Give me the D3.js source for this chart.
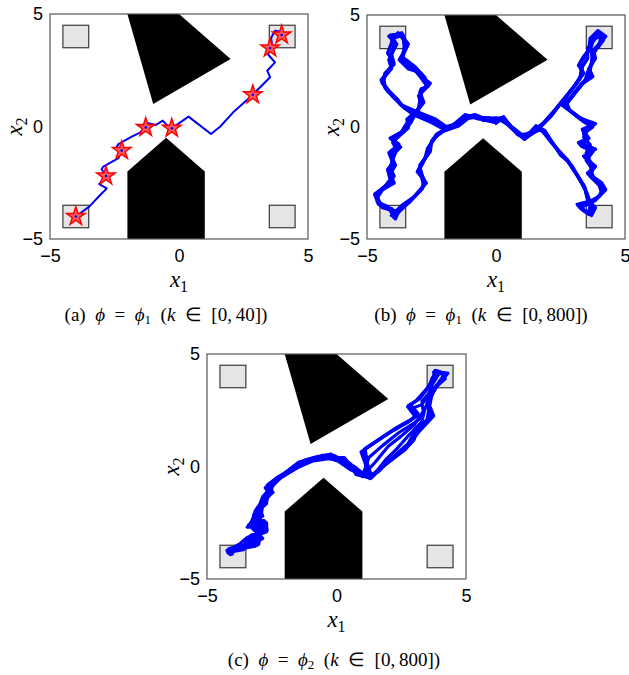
<!DOCTYPE html>
<html>
<head>
<meta charset="utf-8">
<script src="https://cdn.jsdelivr.net/npm/d3@7"></script>
<style>
  body { margin: 0; background: #fff; }
  .tick text { font-family: "Liberation Sans", Arial, sans-serif; font-size: 18px; fill: #000; }
  .alabel { font-family: "Liberation Serif", serif; font-size: 23px; }
  .caption { font-family: "Liberation Serif", serif; font-size: 19px; }
</style>
</head>
<body>
<script>
const xTicks = [-5, 0, 5];
const yTicks = [-5, 0, 5];

// regions to visit (lower-left corner, side 1)
const regionX = [-4.5, 3.5, -4.5, 3.5];
const regionY = [3.5, 3.5, -4.5, -4.5];
const regionSide = 1;

// obstacles
const obstacleTop = [[-2, 5], [0, 5], [2, 3], [-1, 1]];
const obstacleBottom = [[-2, -5], [-2, -2], [-0.5, -0.5], [1, -2], [1, -5]];

// (a) single run, k in [0,40]
const trajA = [[-4, -4], [-3.48, -3.56], [-3.09, -3.09], [-2.8, -2.75], [-3.09, -2.56], [-2.83, -2.2],
  [-3.0, -1.9], [-2.93, -1.78], [-2.35, -1.41], [-2.22, -1.07], [-2.41, -0.9], [-2.35, -0.78],
  [-1.83, -0.45], [-1.51, -0.27], [-1.29, -0.04], [-1.19, 0.14], [-0.89, 0.07], [-0.63, 0.26],
  [-0.48, 0.07], [-0.28, -0.08], [0.37, 0.44], [1.24, -0.33], [1.59, -0.01], [2.1, 0.63],
  [2.86, 1.41], [3.53, 2.19], [3.42, 2.48], [3.72, 2.85], [3.46, 3.19], [3.53, 3.49],
  [3.6, 3.7], [3.57, 3.93], [3.72, 4.26], [3.85, 4.23], [3.98, 4.07]];
const starsA = [[-4, -4], [-2.83, -2.2], [-2.22, -1.07], [-1.29, -0.04], [-0.28, -0.08],
  [2.86, 1.41], [3.53, 3.49], [3.98, 4.07]];

// (b) phi1, k in [0,800]
const trajB1 = [[-0.09, 0.28], [-0.35, 0.36], [-0.61, 0.43], [-1.12, 0.51], [-1.51, 0.13], [-1.9, -0.09],
  [-2.42, 0.28], [-3.06, 0.58], [-3.64, 0.95], [-3.84, 1.25], [-4.1, 1.55], [-4.42, 2.0], [-4.22, 2.44],
  [-3.97, 2.89], [-4.1, 3.18], [-3.9, 3.78], [-4.1, 4.1], [-3.7, 4.15], [-3.4, 3.7], [-3.71, 2.96],
  [-3.32, 2.66], [-3.06, 2.44], [-2.61, 1.85], [-2.93, 1.62], [-2.87, 1.18], [-3.06, 0.73], [-3.39, 0.28],
  [-3.45, -0.09], [-4.03, -0.54], [-3.77, -0.76], [-4.1, -1.2], [-3.97, -1.58], [-4.16, -1.95],
  [-4.03, -2.4], [-4.35, -2.69], [-4.68, -3.06], [-4.48, -3.51], [-4.03, -3.66], [-3.97, -4.03],
  [-3.71, -3.73], [-3.32, -3.29], [-2.93, -2.84], [-2.74, -2.47], [-3.0, -1.95], [-2.8, -1.5],
  [-2.61, -1.06], [-2.48, -0.61], [-2.29, -0.31], [-1.9, -0.09], [-1.5, 0.2], [-1.1, 0.45], [-0.6, 0.4],
  [-0.1, 0.3], [0.27, 0.43], [0.47, 0.13], [1.11, -0.46], [1.63, -0.09], [2.15, 0.51], [2.53, 1.1],
  [2.92, 1.62], [3.18, 2.07], [3.37, 2.44], [3.24, 2.81], [3.44, 3.18], [3.63, 3.48], [3.7, 4.0],
  [3.96, 4.23], [4.21, 4.0], [3.96, 3.56], [3.76, 3.41], [3.83, 3.11], [3.63, 2.66], [3.7, 2.22],
  [3.31, 1.92], [2.92, 1.32], [2.6, 0.95], [3.05, 0.58], [3.37, 0.28], [3.83, 0.13], [3.37, -0.16],
  [3.57, -0.54], [3.24, -0.76], [3.83, -0.98], [3.44, -1.35], [3.83, -1.8], [3.57, -2.1], [4.08, -2.55],
  [4.21, -2.84], [3.83, -3.29], [3.18, -3.51], [3.44, -3.73], [3.7, -3.88], [3.83, -3.58], [3.57, -3.29],
  [3.44, -2.69], [3.12, -2.1], [2.79, -1.5], [2.53, -1.2], [2.21, -0.76], [1.89, -0.16], [1.63, -0.01],
  [1.11, -0.54], [0.73, -0.16], [0.27, 0.43], [-0.05, 0.13]];
const trajB2 = [[0.0, 0.2], [-0.4, 0.3], [-0.7, 0.5], [-1.05, 0.42], [-1.45, 0.05], [-1.95, -0.15],
  [-2.5, 0.2], [-3.1, 0.5], [-3.55, 0.85], [-3.9, 1.3], [-4.2, 1.6], [-4.45, 2.1], [-4.15, 2.5],
  [-4.0, 2.95], [-4.2, 3.3], [-4.0, 3.9], [-3.8, 4.2], [-3.5, 3.8], [-3.65, 3.05], [-3.25, 2.75],
  [-3.0, 2.35], [-2.55, 1.95], [-2.95, 1.55], [-2.8, 1.1], [-3.1, 0.65], [-3.3, 0.2], [-3.55, -0.2],
  [-3.95, -0.6], [-3.7, -0.9], [-4.05, -1.3], [-3.9, -1.7], [-4.1, -2.1], [-3.95, -2.5], [-4.4, -2.8],
  [-4.6, -3.15], [-4.4, -3.6], [-3.9, -3.75], [-4.05, -3.95], [-3.6, -3.6], [-3.25, -3.2], [-2.85, -2.75],
  [-2.8, -2.35], [-2.95, -1.85], [-2.75, -1.4], [-2.65, -0.95], [-2.4, -0.55], [-2.2, -0.25], [-1.8, -0.05],
  [-1.4, 0.25], [-1.0, 0.5], [-0.5, 0.35], [0.0, 0.4], [0.35, 0.35], [0.55, 0.05], [1.05, -0.4],
  [1.7, 0.0], [2.2, 0.6], [2.6, 1.2], [2.95, 1.7], [3.25, 2.15], [3.3, 2.5], [3.3, 2.9], [3.5, 3.25],
  [3.7, 3.6], [3.8, 4.1], [4.05, 4.2], [4.15, 3.85], [3.9, 3.5], [3.75, 3.2], [3.68, 2.75], [3.62, 2.3],
  [3.25, 1.85], [2.85, 1.25], [2.7, 0.9], [3.1, 0.5], [3.45, 0.2], [3.75, 0.0], [3.4, -0.3], [3.5, -0.65],
  [3.3, -0.85], [3.75, -1.1], [3.5, -1.5], [3.75, -1.9], [3.65, -2.2], [4.0, -2.6], [4.1, -2.95],
  [3.75, -3.35], [3.25, -3.6], [3.5, -3.8], [3.75, -3.75], [3.6, -3.2], [3.4, -2.6], [3.05, -2.0],
  [2.75, -1.45], [2.45, -1.1], [2.15, -0.7], [1.85, -0.25], [1.55, 0.05], [1.15, -0.45], [0.65, -0.1],
  [0.2, 0.35], [0.0, 0.2]];
const trajB3 = [[0.05, 0.25], [-0.3, 0.42], [-0.65, 0.35], [-1.2, 0.55], [-1.55, 0.2], [-1.85, -0.05],
  [-2.35, 0.35], [-3.0, 0.65], [-3.7, 1.0], [-3.8, 1.2], [-4.05, 1.45], [-4.4, 1.95], [-4.3, 2.4],
  [-3.95, 2.8], [-4.05, 3.25], [-3.85, 3.7], [-4.15, 4.05], [-3.65, 4.2], [-3.45, 3.6], [-3.75, 3.0],
  [-3.4, 2.6], [-3.1, 2.5], [-2.65, 1.8], [-2.9, 1.7], [-2.95, 1.2], [-3.0, 0.8], [-3.45, 0.35],
  [-3.4, -0.05], [-4.1, -0.5], [-3.8, -0.8], [-4.15, -1.15], [-4.0, -1.6], [-4.2, -1.9], [-4.1, -2.35],
  [-4.3, -2.65], [-4.7, -3.0], [-4.55, -3.45], [-4.1, -3.7], [-3.9, -4.1], [-3.75, -3.7], [-3.35, -3.35],
  [-3.0, -2.9], [-2.7, -2.5], [-3.05, -2.0], [-2.85, -1.55], [-2.55, -1.1], [-2.5, -0.65], [-2.3, -0.35],
  [-1.95, -0.1], [-1.55, 0.15], [-1.15, 0.4], [-0.65, 0.45], [-0.15, 0.25], [0.3, 0.45], [0.45, 0.15],
  [1.15, -0.5], [1.6, -0.15], [2.1, 0.45], [2.5, 1.05], [2.85, 1.55], [3.15, 2.0], [3.4, 2.4], [3.2, 2.75],
  [3.4, 3.15], [3.6, 3.45], [3.65, 3.95], [3.95, 4.3], [4.25, 4.05], [3.95, 3.65], [3.8, 3.35], [3.85, 3.05],
  [3.6, 2.6], [3.75, 2.25], [3.35, 1.95], [2.95, 1.35], [2.55, 1.0], [3.0, 0.6], [3.35, 0.35], [3.85, 0.15],
  [3.35, -0.1], [3.6, -0.5], [3.2, -0.7], [3.85, -1.0], [3.4, -1.3], [3.85, -1.75], [3.55, -2.05],
  [4.1, -2.5], [4.25, -2.8], [3.85, -3.25], [3.15, -3.45], [3.4, -3.7], [3.7, -3.95], [3.85, -3.6],
  [3.55, -3.25], [3.45, -2.75], [3.15, -2.15], [2.8, -1.55], [2.5, -1.25], [2.25, -0.8], [1.9, -0.2],
  [1.65, -0.05], [1.1, -0.55], [0.75, -0.2], [0.3, 0.4], [0.05, 0.25]];
const trajB4 = [[-0.2, 0.35], [-0.5, 0.3], [-0.8, 0.55], [-1.2, 0.45], [-1.6, 0.1], [-2.0, 0.0],
  [-2.6, 0.3], [-3.2, 0.55], [-3.6, 0.9], [-4.0, 1.35], [-4.3, 1.75], [-4.35, 2.2], [-4.05, 2.6],
  [-4.15, 3.0], [-3.95, 3.5], [-4.05, 3.95], [-3.6, 4.1], [-3.55, 3.5], [-3.6, 3.1], [-3.15, 2.7],
  [-2.75, 2.2], [-2.7, 1.75], [-3.0, 1.4], [-2.9, 1.0], [-3.2, 0.5], [-3.5, 0.1], [-3.7, -0.3],
  [-4.0, -0.7], [-3.85, -1.0], [-4.0, -1.45], [-4.1, -1.8], [-3.95, -2.2], [-4.2, -2.55], [-4.55, -2.9],
  [-4.6, -3.35], [-4.2, -3.55], [-4.0, -3.9], [-3.65, -3.5], [-3.15, -3.1], [-2.8, -2.6], [-2.9, -2.15],
  [-2.95, -1.7], [-2.65, -1.25], [-2.55, -0.8], [-2.35, -0.45], [-2.05, -0.2], [-1.65, 0.1], [-1.25, 0.35],
  [-0.8, 0.45], [-0.35, 0.4], [0.1, 0.35], [0.4, 0.2], [0.85, -0.35], [1.3, -0.3], [1.85, 0.2],
  [2.35, 0.85], [2.75, 1.4], [3.05, 1.85], [3.3, 2.3], [3.35, 2.7], [3.55, 3.05], [3.55, 3.5], [3.85, 3.95],
  [4.1, 4.1], [4.0, 3.7], [3.7, 3.35], [3.75, 2.9], [3.55, 2.45], [3.45, 2.05], [3.05, 1.5], [2.75, 1.05],
  [2.85, 0.75], [3.2, 0.45], [3.6, 0.2], [3.55, -0.1], [3.4, -0.45], [3.65, -0.8], [3.5, -1.15],
  [3.65, -1.55], [3.7, -2.0], [3.8, -2.35], [4.15, -2.7], [4.0, -3.1], [3.5, -3.4], [3.3, -3.65],
  [3.6, -3.9], [3.65, -3.45], [3.5, -2.9], [3.25, -2.35], [2.95, -1.75], [2.65, -1.35], [2.35, -0.95],
  [2.05, -0.5], [1.75, -0.1], [1.35, -0.3], [0.95, -0.4], [0.5, 0.1], [0.1, 0.35], [-0.2, 0.35]];

// (c) phi2, k in [0,800]
const trajC1 = [[-4.1, -3.88], [-4.23, -3.73], [-3.71, -3.58], [-3.32, -3.29], [-3.07, -3.51], [-3.07, -3.06],
  [-2.68, -2.84], [-2.74, -2.47], [-3.32, -2.54], [-3.0, -1.88], [-2.74, -1.51], [-2.55, -1.06],
  [-2.62, -0.84], [-2.23, -0.47], [-1.65, -0.03], [-1.13, 0.27], [-0.62, 0.42], [-0.17, 0.49],
  [-0.04, 0.27], [0.01, 0.42], [0.53, 0.12], [0.78, -0.32], [1.3, -0.47], [1.17, -0.03], [1.04, 0.72],
  [1.69, 1.23], [2.27, 1.68], [2.85, 2.04], [3.1, 2.27], [2.78, 2.71], [3.1, 2.94], [3.49, 3.46],
  [3.75, 3.9], [3.81, 4.27], [4.26, 4.12], [4.0, 3.82], [3.75, 3.4], [3.55, 2.79], [3.68, 2.2],
  [3.1, 1.6], [2.97, 1.16], [2.59, 0.72], [1.69, -0.1], [1.3, -0.54], [0.6, -0.1], [0.1, 0.3],
  [-0.5, 0.45], [-1.2, 0.2], [-1.7, -0.1], [-2.3, -0.5], [-2.7, -0.9], [-2.5, -1.1], [-2.8, -1.5],
  [-3.1, -1.9], [-3.0, -2.3], [-3.4, -2.6], [-2.7, -2.6], [-3.0, -3.0], [-3.4, -3.3], [-3.1, -3.5],
  [-3.8, -3.6], [-4.2, -3.9]];
const trajC2 = [[-4.0, -3.95], [-4.15, -3.65], [-3.6, -3.5], [-3.25, -3.2], [-3.0, -3.45], [-2.95, -3.0],
  [-2.75, -2.75], [-2.8, -2.4], [-3.25, -2.45], [-2.95, -1.95], [-2.7, -1.55], [-2.6, -1.1], [-2.5, -0.8],
  [-2.1, -0.4], [-1.6, 0.05], [-1.05, 0.3], [-0.55, 0.35], [-0.1, 0.5], [0.1, 0.35], [0.6, 0.05],
  [0.85, -0.3], [1.35, -0.4], [1.2, 0.1], [1.1, 0.8], [1.75, 1.3], [2.35, 1.75], [2.9, 2.1], [3.15, 2.35],
  [2.85, 2.75], [3.2, 3.0], [3.55, 3.5], [3.7, 3.95], [3.9, 4.25], [4.2, 4.05], [3.95, 3.7], [3.7, 3.3],
  [3.6, 2.7], [3.75, 2.25], [3.15, 1.5], [2.9, 1.1], [2.5, 0.65], [1.75, -0.05], [1.35, -0.5], [0.65, -0.05],
  [0.2, 0.4], [-0.45, 0.4], [-1.1, 0.25], [-1.6, -0.05], [-2.2, -0.45], [-2.75, -0.95], [-2.6, -1.2],
  [-2.9, -1.6], [-3.15, -2.0], [-2.95, -2.35], [-3.45, -2.7], [-2.8, -2.7], [-3.1, -3.1], [-3.5, -3.35],
  [-3.2, -3.55], [-3.9, -3.7], [-4.25, -3.85]];
const trajC3 = [[-4.2, -3.8], [-3.8, -3.65], [-3.4, -3.35], [-3.15, -3.55], [-3.15, -3.1], [-2.7, -2.9],
  [-2.7, -2.5], [-3.35, -2.6], [-3.05, -1.9], [-2.8, -1.45], [-2.5, -1.0], [-2.65, -0.8], [-2.3, -0.5],
  [-1.7, -0.1], [-1.2, 0.3], [-0.7, 0.45], [-0.2, 0.55], [-0.05, 0.3], [0.5, 0.15], [0.75, -0.35],
  [1.25, -0.5], [1.15, 0.0], [0.95, 0.65], [1.65, 1.2], [2.2, 1.6], [2.8, 2.0], [3.05, 2.2], [2.75, 2.65],
  [3.05, 2.9], [3.45, 3.4], [3.8, 3.85], [3.75, 4.2], [4.3, 4.15], [4.05, 3.8], [3.8, 3.45], [3.5, 2.85],
  [3.65, 2.15], [3.05, 1.65], [3.0, 1.2], [2.65, 0.75], [1.6, -0.15], [1.25, -0.5], [0.55, -0.15],
  [0.05, 0.25], [-0.55, 0.5], [-1.25, 0.15], [-1.75, -0.15], [-2.35, -0.55], [-2.65, -0.85], [-2.45, -1.15],
  [-2.75, -1.45], [-3.05, -1.85], [-3.05, -2.25], [-3.35, -2.55], [-2.75, -2.55], [-2.95, -2.95],
  [-3.35, -3.25], [-3.05, -3.45], [-3.75, -3.55], [-4.15, -3.95]];
const trajC4 = [[-4.0, -3.75], [-3.55, -3.45], [-3.3, -3.05], [-2.85, -2.85], [-3.05, -2.5], [-2.9, -2.1],
  [-2.85, -1.7], [-2.65, -1.25], [-2.4, -0.75], [-2.0, -0.3], [-1.4, 0.1], [-0.9, 0.35], [-0.4, 0.45],
  [0.2, 0.3], [0.7, -0.2], [1.1, -0.3], [1.5, 0.2], [2.0, 0.9], [2.5, 1.35], [3.0, 1.85], [3.35, 2.45],
  [3.3, 2.9], [3.6, 3.3], [3.95, 3.7], [4.1, 4.0], [3.9, 3.6], [3.6, 3.1], [3.4, 2.5], [3.3, 2.0],
  [2.8, 1.4], [2.3, 0.75], [1.9, 0.3], [1.45, -0.35], [0.9, -0.25], [0.4, 0.2], [-0.3, 0.35], [-0.9, 0.25],
  [-1.5, -0.05], [-2.0, -0.4], [-2.45, -0.7], [-2.6, -1.3], [-2.95, -1.7], [-3.2, -2.15], [-3.25, -2.75],
  [-2.85, -3.2], [-3.3, -3.45], [-3.6, -3.7], [-4.1, -3.8]];
const trajC5 = [[-4.15, -3.7], [-3.75, -3.45], [-3.45, -3.15], [-3.0, -2.95], [-3.2, -2.7], [-2.95, -2.3],
  [-3.05, -2.0], [-2.7, -1.65], [-2.7, -1.2], [-2.35, -0.65], [-1.9, -0.2], [-1.45, 0.2], [-0.8, 0.4],
  [-0.3, 0.4], [0.3, 0.4], [0.65, -0.1], [1.0, -0.45], [1.25, 0.4], [1.8, 0.95], [2.4, 1.5], [2.95, 1.9],
  [3.2, 2.1], [2.95, 2.6], [3.3, 2.75], [3.55, 3.2], [3.7, 3.65], [4.0, 4.2], [4.2, 3.9], [3.85, 3.55],
  [3.6, 2.95], [3.55, 2.45], [3.5, 2.1], [3.0, 1.5], [2.75, 1.0], [2.2, 0.45], [1.6, -0.25], [1.15, -0.45],
  [0.75, -0.05], [0.25, 0.3], [-0.35, 0.5], [-1.0, 0.3], [-1.6, -0.1], [-2.15, -0.5], [-2.55, -0.95],
  [-2.85, -1.35], [-3.0, -1.8], [-2.85, -2.2], [-3.25, -2.45], [-3.0, -2.8], [-3.2, -3.2], [-3.55, -3.5],
  [-4.05, -3.6]];

const svg = d3.select("body").append("svg").attr("width", 629).attr("height", 675);

const minus = d => (d < 0 ? "\u2212" + Math.abs(d) : String(d));

function drawPanel(box, trajs, stars, lineWidth, cap) {
  const x = d3.scaleLinear().domain([-5, 5]).range([box.l, box.r]);
  const y = d3.scaleLinear().domain([-5, 5]).range([box.b, box.t]);
  const g = svg.append("g");

  g.append("rect").attr("x", box.l).attr("y", box.t)
    .attr("width", box.r - box.l).attr("height", box.b - box.t).attr("fill", "#fff");

  const poly = d3.line().x(d => x(d[0])).y(d => y(d[1]));
  [obstacleTop, obstacleBottom].forEach(o => {
    g.append("path").attr("d", poly(o) + "Z").attr("fill", "#000");
  });

  regionX.forEach((rx, i) => {
    g.append("rect")
      .attr("x", x(rx)).attr("y", y(regionY[i] + regionSide))
      .attr("width", x(rx + regionSide) - x(rx))
      .attr("height", y(regionY[i]) - y(regionY[i] + regionSide))
      .attr("fill", "#e5e5e5").attr("stroke", "#3a3a3a").attr("stroke-width", 1.2);
  });

  trajs.forEach(t => {
    g.append("path").attr("d", poly(t)).attr("fill", "none")
      .attr("stroke", "#0000ff").attr("stroke-width", lineWidth)
      .attr("stroke-linejoin", "round");
  });

  if (stars) {
    const star = d3.symbol().type(d3.symbolStar).size(105);
    g.selectAll(".star").data(stars).enter().append("path")
      .attr("transform", d => "translate(" + x(d[0]) + "," + y(d[1]) + ")")
      .attr("d", star).attr("fill", "#ff5a5a").attr("stroke", "#ff0000").attr("stroke-width", 1.5);
    g.selectAll(".dot").data(stars).enter().append("circle")
      .attr("cx", d => x(d[0])).attr("cy", d => y(d[1])).attr("r", 1.3).attr("fill", "#0000ff");
  }

  g.append("rect").attr("x", box.l).attr("y", box.t)
    .attr("width", box.r - box.l).attr("height", box.b - box.t)
    .attr("fill", "none").attr("stroke", "#555").attr("stroke-width", 1.2);

  const ax = g.append("g").attr("transform", "translate(0," + box.b + ")")
    .call(d3.axisBottom(x).tickValues(xTicks).tickSize(0).tickPadding(10).tickFormat(minus));
  ax.select(".domain").remove();
  const ay = g.append("g").attr("transform", "translate(" + box.l + ",0)")
    .call(d3.axisLeft(y).tickValues(yTicks).tickSize(0).tickPadding(7).tickFormat(minus));
  ay.select(".domain").remove();

  // axis labels
  const xl = g.append("text").attr("class", "alabel")
    .attr("x", (box.l + box.r) / 2).attr("y", box.b + 48).attr("text-anchor", "middle");
  xl.append("tspan").attr("font-style", "italic").text("x");
  xl.append("tspan").attr("font-size", "16px").attr("dy", 5).text("1");

  const yl = g.append("text").attr("class", "alabel")
    .attr("transform", "translate(" + (box.l - 28) + "," + ((box.t + box.b) / 2) + ") rotate(-90)")
    .attr("text-anchor", "middle");
  yl.append("tspan").attr("font-style", "italic").text("x");
  yl.append("tspan").attr("font-size", "16px").attr("dy", 5).text("2");

  // caption
  const c = svg.append("text").attr("class", "caption")
    .attr("x", cap.cx).attr("y", cap.y).attr("text-anchor", "middle");
  c.append("tspan").text("(" + cap.tag + ")\u2002");
  c.append("tspan").attr("font-style", "italic").text("\u03D5");
  c.append("tspan").text("\u2002=\u2002");
  c.append("tspan").attr("font-style", "italic").text("\u03D5");
  c.append("tspan").attr("font-size", "13px").attr("dy", 3).text(cap.sub);
  c.append("tspan").attr("dy", -3).text("\u2002(");
  c.append("tspan").attr("font-style", "italic").text("k");
  c.append("tspan").text("\u2002\u2208\u2002[0,\u2009" + cap.kmax + "])");
}

drawPanel({ l: 50, r: 308, t: 14, b: 239 }, [trajA], starsA, 2,
  { cx: 166, y: 321, tag: "a", sub: "1", kmax: 40 });
drawPanel({ l: 367, r: 625, t: 15, b: 239 }, [trajB1, trajB2, trajB3, trajB4], null, 3.4,
  { cx: 481, y: 321, tag: "b", sub: "1", kmax: 800 });
drawPanel({ l: 207, r: 466, t: 354, b: 579 }, [trajC1, trajC2, trajC3, trajC4, trajC5], null, 3.2,
  { cx: 334, y: 666, tag: "c", sub: "2", kmax: 800 });
</script>
</body>
</html>
